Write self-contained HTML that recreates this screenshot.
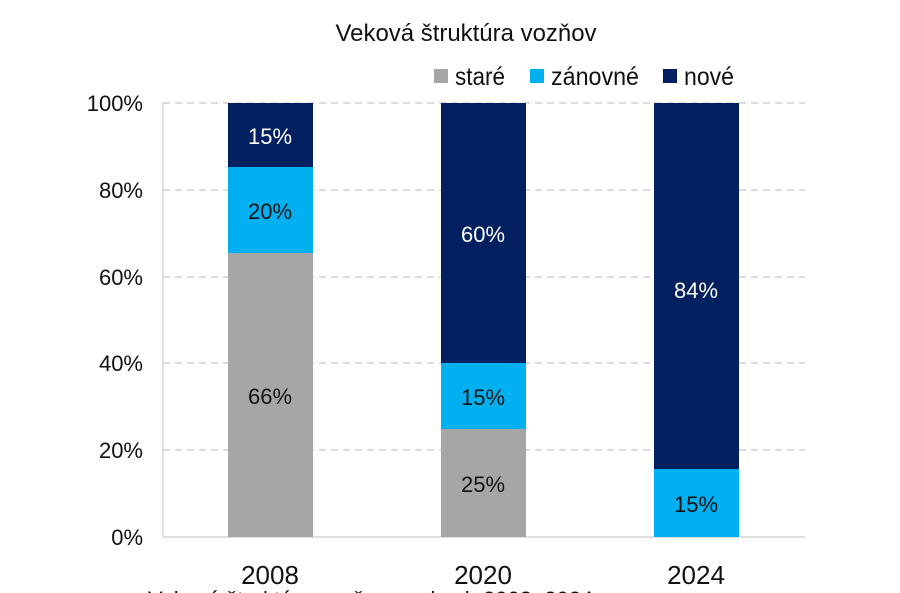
<!DOCTYPE html>
<html><head><meta charset="utf-8"><style>
html,body{margin:0;padding:0;background:#fff;}
svg{display:block;font-family:"Liberation Sans",sans-serif;}
</style></head><body>
<svg width="900" height="593" viewBox="0 0 900 593" xmlns="http://www.w3.org/2000/svg">
<rect width="900" height="593" fill="#fff"/>
<text x="466" y="41" font-size="24" text-anchor="middle" fill="#111" textLength="261" lengthAdjust="spacingAndGlyphs">Veková štruktúra vozňov</text>
<rect x="434" y="69" width="14" height="14" fill="#a6a6a6"/>
<text x="455" y="85" font-size="25" fill="#111" textLength="50" lengthAdjust="spacingAndGlyphs">staré</text>
<rect x="530" y="69" width="14" height="14" fill="#00b0f0"/>
<text x="551" y="85" font-size="25" fill="#111" textLength="88" lengthAdjust="spacingAndGlyphs">zánovné</text>
<rect x="663" y="69" width="14" height="14" fill="#002060"/>
<text x="684" y="85" font-size="25" fill="#111" textLength="50" lengthAdjust="spacingAndGlyphs">nové</text>
<g stroke="#c8c8c8" stroke-width="1.2" stroke-dasharray="7,5">
<line x1="163" y1="103" x2="805" y2="103"/>
<line x1="163" y1="190" x2="805" y2="190"/>
<line x1="163" y1="277" x2="805" y2="277"/>
<line x1="163" y1="363" x2="805" y2="363"/>
<line x1="163" y1="450" x2="805" y2="450"/>
</g>
<line x1="163" y1="103" x2="163" y2="537" stroke="#ccc" stroke-width="1.2"/>
<line x1="163" y1="537" x2="805" y2="537" stroke="#ccc" stroke-width="1.2"/>
<g font-size="22" fill="#111" text-anchor="end">
<text x="143" y="111">100%</text>
<text x="143" y="198">80%</text>
<text x="143" y="285">60%</text>
<text x="143" y="371">40%</text>
<text x="143" y="458">20%</text>
<text x="143" y="545">0%</text>
</g>
<rect x="228" y="253" width="85" height="284" fill="#a6a6a6"/>
<rect x="228" y="167" width="85" height="86" fill="#00b0f0"/>
<rect x="228" y="103" width="85" height="64" fill="#002060"/>
<rect x="441" y="429" width="85" height="108" fill="#a6a6a6"/>
<rect x="441" y="363" width="85" height="66" fill="#00b0f0"/>
<rect x="441" y="103" width="85" height="260" fill="#002060"/>
<rect x="654" y="469" width="85" height="68" fill="#00b0f0"/>
<rect x="654" y="103" width="85" height="366" fill="#002060"/>
<g font-size="22" text-anchor="middle">
<text x="270" y="144" fill="#fff">15%</text>
<text x="270" y="219" fill="#111">20%</text>
<text x="270" y="404" fill="#111">66%</text>
<text x="483" y="242" fill="#fff">60%</text>
<text x="483" y="405" fill="#111">15%</text>
<text x="483" y="492" fill="#111">25%</text>
<text x="696" y="298" fill="#fff">84%</text>
<text x="696" y="512" fill="#111">15%</text>
</g>
<g font-size="26" fill="#111" text-anchor="middle">
<text x="270" y="584">2008</text>
<text x="483" y="584">2020</text>
<text x="696" y="584">2024</text>
</g>
<text x="148" y="607" font-size="22" fill="#111">Veková štruktúra vozňov v rokoch 2008–2024</text>
</svg>
</body></html>
